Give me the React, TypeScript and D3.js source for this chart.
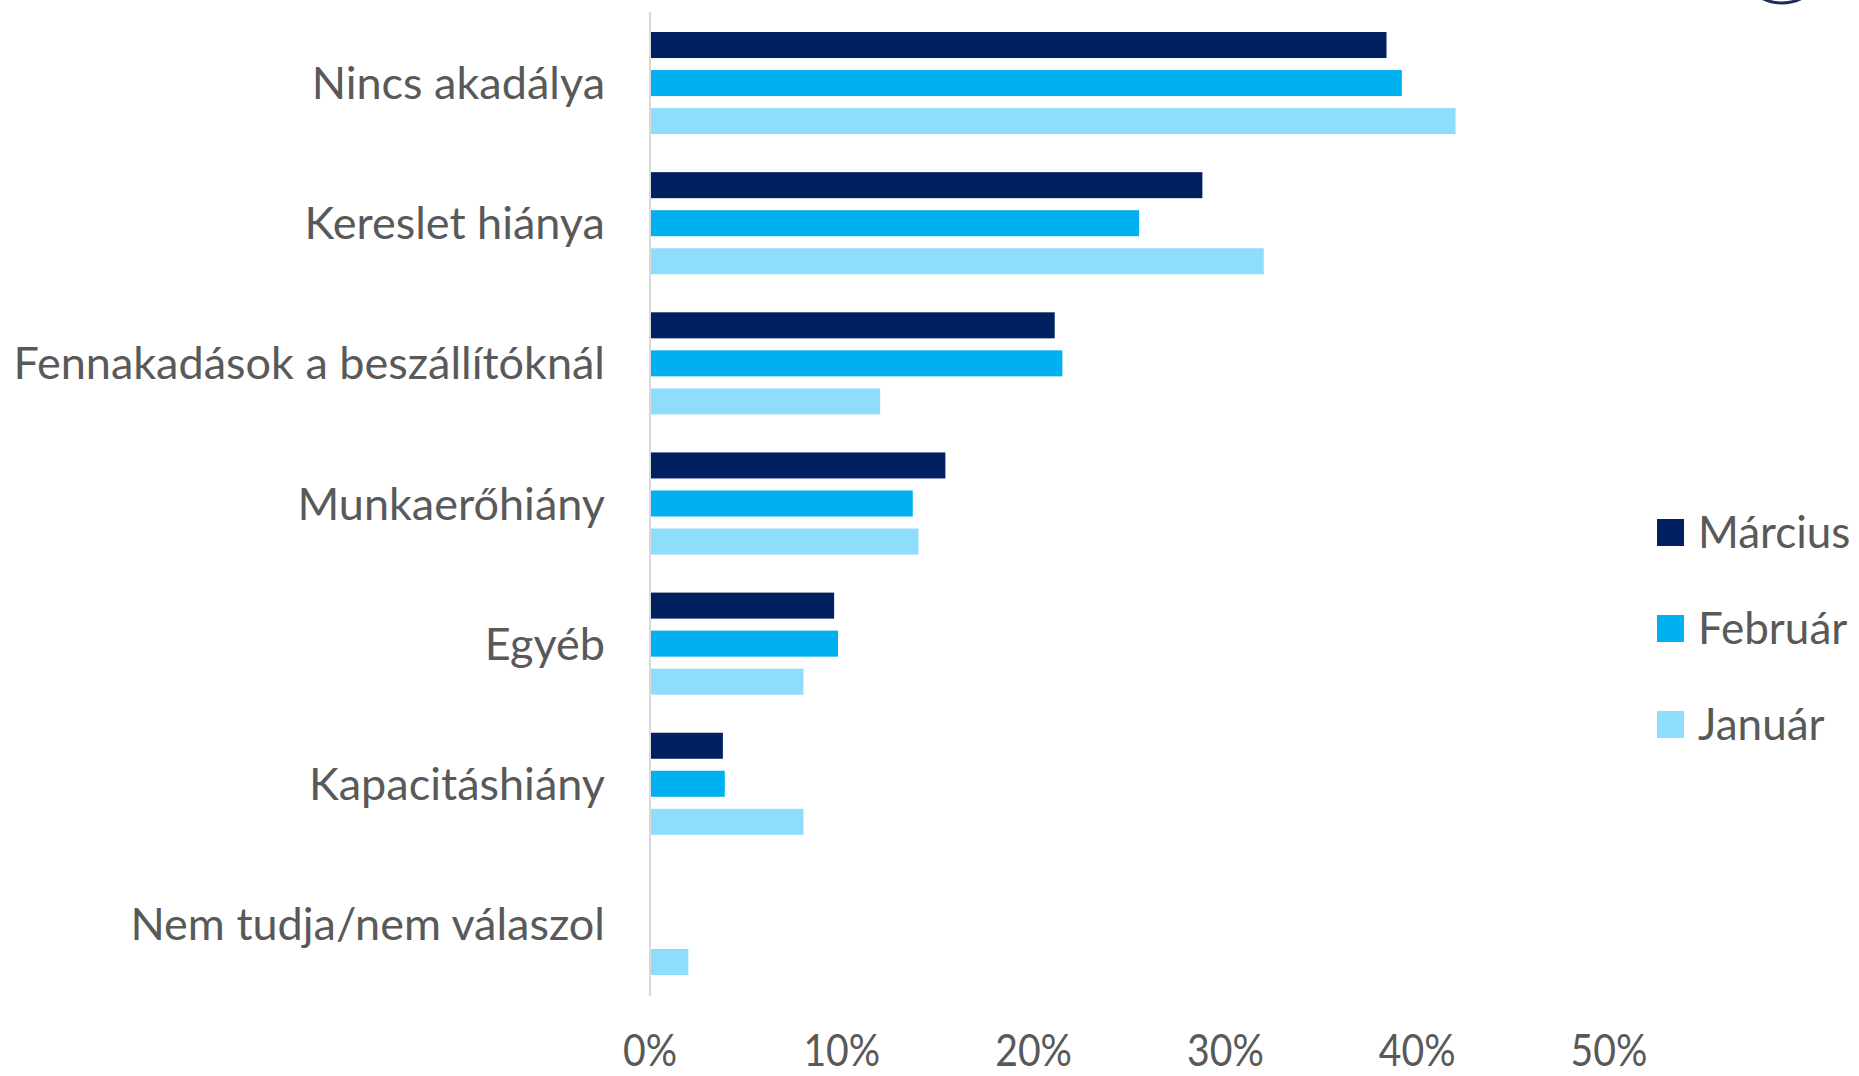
import React from "react";
import * as d3 from "d3";

const categories = [
  "Nincs akadálya",
  "Kereslet hiánya",
  "Fennakadások a beszállítóknál",
  "Munkaerőhiány",
  "Egyéb",
  "Kapacitáshiány",
  "Nem tudja/nem válaszol",
];
const seriesNames = ["Március", "Február", "Január"];
const marcius = [0.384, 0.288, 0.211, 0.154, 0.096, 0.038, 0];
const februar = [0.392, 0.255, 0.215, 0.137, 0.098, 0.039, 0];
const januar = [0.42, 0.32, 0.12, 0.14, 0.08, 0.08, 0.02];
const seriesValues = [marcius, februar, januar];
const seriesColors = ["#002060", "#00B0F0", "#8FDDFD"];
const xTicks = [0, 0.1, 0.2, 0.3, 0.4, 0.5];

const W = 1859;
const H = 1076;
const FONT = "Lato, 'Open Sans', sans-serif";
const TEXT = "#595959";

export default function App() {
  const x = d3.scaleLinear().domain([0, 0.5]).range([650, 1609]);
  const y = d3.scaleBand<string>().domain(categories).range([13, 994]).padding(0);
  const inner = d3
    .scaleBand<string>()
    .domain(seriesNames)
    .range([0, y.bandwidth()])
    .paddingInner(0.316)
    .paddingOuter(0.5);
  const legendY = d3.scalePoint<string>().domain(seriesNames).range([532, 724]);
  const fmt = d3.format(".0%");

  return (
    <svg
      width={W}
      height={H}
      style={{ position: "absolute", left: 0, top: 0, background: "#fff" }}
    >
      <rect x={0} y={0} width={W} height={H} fill="#fff" />
      {/* logo fragment */}
      <circle cx={1782} cy={-40} r={43} fill="none" stroke="#1F2A5C" strokeWidth={3} />

      {categories.map((c, i) => (
        <g key={c}>
          {seriesNames.map((s, j) => {
            const v = seriesValues[j][i];
            if (!v) return null;
            return (
              <rect
                key={s}
                x={x(0)}
                y={(y(c) as number) + (inner(s) as number)}
                width={x(v) - x(0)}
                height={inner.bandwidth()}
                fill={seriesColors[j]}
              />
            );
          })}
          <text
            x={605}
            y={(y(c) as number) + y.bandwidth() / 2 + 16}
            textAnchor="end"
            fontFamily={FONT}
            fontSize={45}
            fill={TEXT}
          >
            {c}
          </text>
        </g>
      ))}

      <line x1={x(0)} x2={x(0)} y1={12} y2={996} stroke="#D9D9D9" strokeWidth={2} />

      {xTicks.map((t) => (
        <g key={t} transform={`translate(${x(t)},1066) scale(0.87,1)`}>
          <text textAnchor="middle" fontFamily={FONT} fontSize={45} fill={TEXT}>
            {fmt(t)}
          </text>
        </g>
      ))}

      {seriesNames.map((s, j) => (
        <g key={s} transform={`translate(1657,${legendY(s)})`}>
          <rect x={0} y={-13} width={27} height={27} fill={seriesColors[j]} />
          <text x={41} y={16} fontFamily={FONT} fontSize={44} fill={TEXT}>
            {s}
          </text>
        </g>
      ))}
    </svg>
  );
}
